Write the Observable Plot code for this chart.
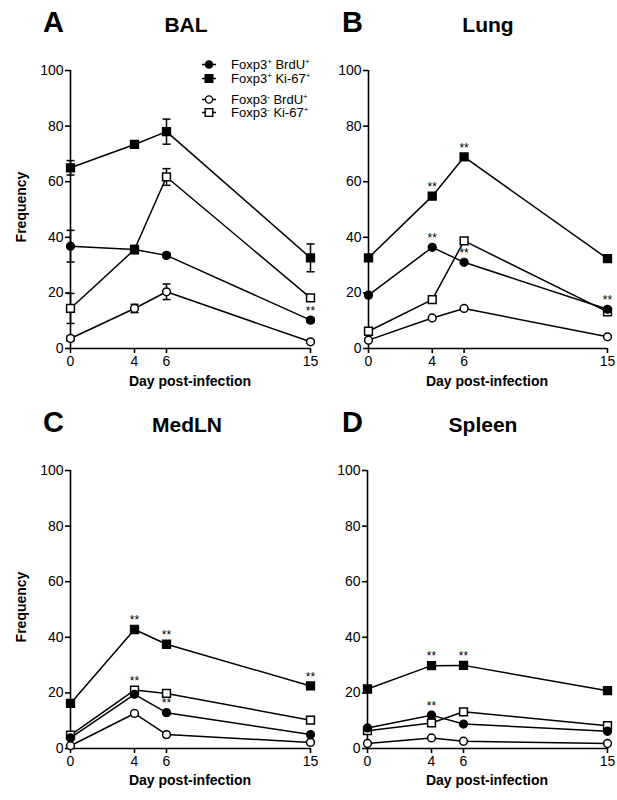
<!DOCTYPE html>
<html><head><meta charset="utf-8">
<script src="https://cdn.jsdelivr.net/npm/d3@7"></script>
<script src="https://cdn.jsdelivr.net/npm/@observablehq/plot@0.6"></script>
<style>
body{margin:0;background:#fff;font-family:"Liberation Sans",Arial,sans-serif;}
#fig{position:relative;width:617px;height:800px;overflow:hidden;background:#fff}
.abs{position:absolute;line-height:1;white-space:nowrap;color:#000}
.lg{position:absolute;display:flex;align-items:center;font-size:13px;line-height:1;white-space:nowrap}
.lg sup{font-size:8px;line-height:0;vertical-align:5px}
</style></head><body><div id="fig"></div>
<script>
// ---- data ----
const days = [0, 4, 6, 15];
const yTicks = [0, 20, 40, 60, 80, 100];
const seriesLabels = ["Foxp3+ BrdU+", "Foxp3+ Ki-67+", "Foxp3- BrdU+", "Foxp3- Ki-67+"];

// BAL
const balPosBrdU = [36.8, 35.6, 33.5, 10.2];
const balPosKi67 = [65.0, 73.4, 78.0, 32.6];
const balNegBrdU = [3.6, 14.4, 20.4, 2.4];
const balNegKi67 = [14.4, 35.6, 61.7, 18.2];
const balPosBrdUErr = [5.7, 1.0, 0.8, 0.8];
const balPosKi67Err = [2.6, 0.8, 4.5, 5.0];
const balNegBrdUErr = [1.0, 1.5, 2.8, 0.5];
const balNegKi67Err = [5.4, 1.5, 3.0, 1.0];
const balStars = [[0, 15]];

// Lung
const lungPosBrdU = [19.2, 36.4, 31.0, 14.1];
const lungPosKi67 = [32.6, 54.8, 68.9, 32.3];
const lungNegBrdU = [3.0, 11.0, 14.4, 4.2];
const lungNegKi67 = [6.2, 17.6, 38.7, 13.2];
const lungStars = [[1, 4], [1, 6], [0, 4], [0, 6], [0, 15]];

// MedLN
const medPosBrdU = [3.8, 19.5, 12.9, 5.0];
const medPosKi67 = [16.2, 42.8, 37.5, 22.5];
const medNegBrdU = [1.0, 12.6, 5.0, 2.2];
const medNegKi67 = [4.8, 21.0, 19.8, 10.2];
const medStars = [[1, 4], [1, 6], [1, 15], [3, 4], [0, 6]];

// Spleen
const splPosBrdU = [7.4, 12.0, 8.8, 6.2];
const splPosKi67 = [21.4, 29.8, 29.9, 20.8];
const splNegBrdU = [1.8, 3.8, 2.6, 1.8];
const splNegKi67 = [6.4, 9.2, 13.2, 8.2];
const splStars = [[1, 4], [1, 6], [0, 4]];

// ---- drawing ----
const fig = document.getElementById("fig");
const FONT = "'Liberation Sans', Arial, sans-serif";
const capSymbol = {draw(ctx) { ctx.moveTo(-4, 0); ctx.lineTo(4, 0); }};
const seriesStyle = [
  {symbol: "circle", fill: "black", r: 3.9},
  {symbol: "square", fill: "black", r: 4.4},
  {symbol: "circle", fill: "white", r: 3.9},
  {symbol: "square", fill: "white", r: 4.4}
];
const drawOrder = [2, 3, 0, 1];

function panel({left, top, width, marginLeft, marginRight, series, errs, stars}) {
  const data = [];
  series.forEach((vals, s) => vals.forEach((v, i) => data.push({s, day: days[i], v, e: errs ? errs[s][i] : 0})));
  const errData = data.filter(d => d.e > 0);
  const starData = stars.map(([s, day]) => data.find(d => d.s === s && d.day === day));
  const marks = [
    Plot.ruleY([0], {x1: 0, x2: 15, strokeWidth: 1.6}),
    Plot.ruleX([0], {y1: 0, y2: 100, strokeWidth: 1.6}),
    Plot.axisY({ticks: yTicks, tickSize: 5, tickPadding: 2, strokeWidth: 1.6, label: null}),
    Plot.axisX({ticks: days, tickSize: 5, tickPadding: 3, strokeWidth: 1.6, label: null})
  ];
  for (const s of drawOrder) {
    marks.push(Plot.line(data.filter(d => d.s === s), {x: "day", y: "v", stroke: "black", strokeWidth: 1.5}));
  }
  if (errData.length) {
    marks.push(Plot.ruleX(errData, {x: "day", y1: d => d.v - d.e, y2: d => d.v + d.e, strokeWidth: 1.5}));
    marks.push(Plot.dot(errData, {x: "day", y: d => d.v + d.e, symbol: capSymbol, fill: "none", stroke: "black", strokeWidth: 1.5}));
    marks.push(Plot.dot(errData, {x: "day", y: d => d.v - d.e, symbol: capSymbol, fill: "none", stroke: "black", strokeWidth: 1.5}));
  }
  for (const s of drawOrder) {
    const st = seriesStyle[s];
    marks.push(Plot.dot(data.filter(d => d.s === s), {x: "day", y: "v", symbol: st.symbol, r: st.r, fill: st.fill, stroke: "black", strokeWidth: 1.5}));
  }
  marks.push(Plot.text(starData, {x: "day", y: "v", text: () => "**", dy: -9, fontSize: 12}));
  const svg = Plot.plot({
    width, height: 400, marginLeft, marginRight, marginTop: 70, marginBottom: 52,
    x: {domain: [0, 15]},
    y: {domain: [0, 100]},
    style: {background: "transparent", overflow: "visible", fontSize: "14px", fontFamily: FONT, color: "black"},
    marks
  });
  svg.style.position = "absolute";
  svg.style.left = left + "px";
  svg.style.top = top + "px";
  svg.style.maxWidth = "none";
  fig.appendChild(svg);
}

panel({left: 0, top: 0, width: 315, marginLeft: 70, marginRight: 5,
  series: [balPosBrdU, balPosKi67, balNegBrdU, balNegKi67],
  errs: [balPosBrdUErr, balPosKi67Err, balNegBrdUErr, balNegKi67Err], stars: balStars});
panel({left: 308, top: 0, width: 309, marginLeft: 60, marginRight: 10,
  series: [lungPosBrdU, lungPosKi67, lungNegBrdU, lungNegKi67], stars: lungStars});
panel({left: 0, top: 400, width: 315, marginLeft: 70, marginRight: 5,
  series: [medPosBrdU, medPosKi67, medNegBrdU, medNegKi67], stars: medStars});
panel({left: 307, top: 400, width: 310, marginLeft: 60, marginRight: 10,
  series: [splPosBrdU, splPosKi67, splNegBrdU, splNegKi67], stars: splStars});

// ---- text ----
function txt(s, x, baseline, size, align) {
  const d = document.createElement("div");
  d.className = "abs";
  d.textContent = s;
  d.style.cssText += `font-size:${size}px;font-weight:bold;top:${baseline - 0.846 * size}px;left:${x}px;` +
    (align === "center" ? "transform:translateX(-50%);" : "");
  fig.appendChild(d);
}
function centered(s, cx, cy, size, rotate) {
  const d = document.createElement("div");
  d.className = "abs";
  d.textContent = s;
  d.style.cssText += `font-size:${size}px;font-weight:bold;left:${cx}px;top:${cy}px;transform:translate(-50%,-50%)` + (rotate ? " rotate(-90deg)" : "") + ";";
  fig.appendChild(d);
}
const panelLetters = ["A", "B", "C", "D"];
const panelTitles = ["BAL", "Lung", "MedLN", "Spleen"];
const letterX = [43, 342, 43, 342];
const titleX = [186, 488, 187, 483];
const rowBase = [33, 33, 433, 433];
panelLetters.forEach((l, i) => {
  txt(l, letterX[i], rowBase[i], 29, "left");
  txt(panelTitles[i], titleX[i], rowBase[i] - 1, 21, "center");
});
centered("Frequency", 21, 207, 14, true);
centered("Frequency", 21, 607, 14, true);
centered("Day post-infection", 190, 381, 14);
centered("Day post-infection", 487, 381, 14);
centered("Day post-infection", 190, 780, 14);
centered("Day post-infection", 487, 780, 14);

// ---- legend ----
const legendY = [64.5, 78, 99, 112.5];
seriesLabels.forEach((lab, i) => {
  const st = seriesStyle[i];
  const row = document.createElement("div");
  row.className = "lg";
  row.style.left = "202px";
  row.style.top = (legendY[i] - 6.5) + "px";
  row.style.height = "13px";
  const m = st.symbol === "circle"
    ? `<circle cx="7" cy="6.5" r="3.6" fill="${st.fill}" stroke="black" stroke-width="1.4"/>`
    : `<rect x="3.2" y="2.7" width="7.6" height="7.6" fill="${st.fill}" stroke="black" stroke-width="1.4"/>`;
  const parts = lab.split(" ");
  const fmt = p => p.replace(/([+-])$/, "<sup>$1</sup>");
  row.innerHTML = `<svg width="14" height="13" style="display:block"><line x1="0" x2="14" y1="6.5" y2="6.5" stroke="black" stroke-width="1.5"/>${m}</svg>` +
    `<span style="margin-left:15px">${fmt(parts[0])} ${fmt(parts[1])}</span>`;
  fig.appendChild(row);
});
</script>
</body></html>
